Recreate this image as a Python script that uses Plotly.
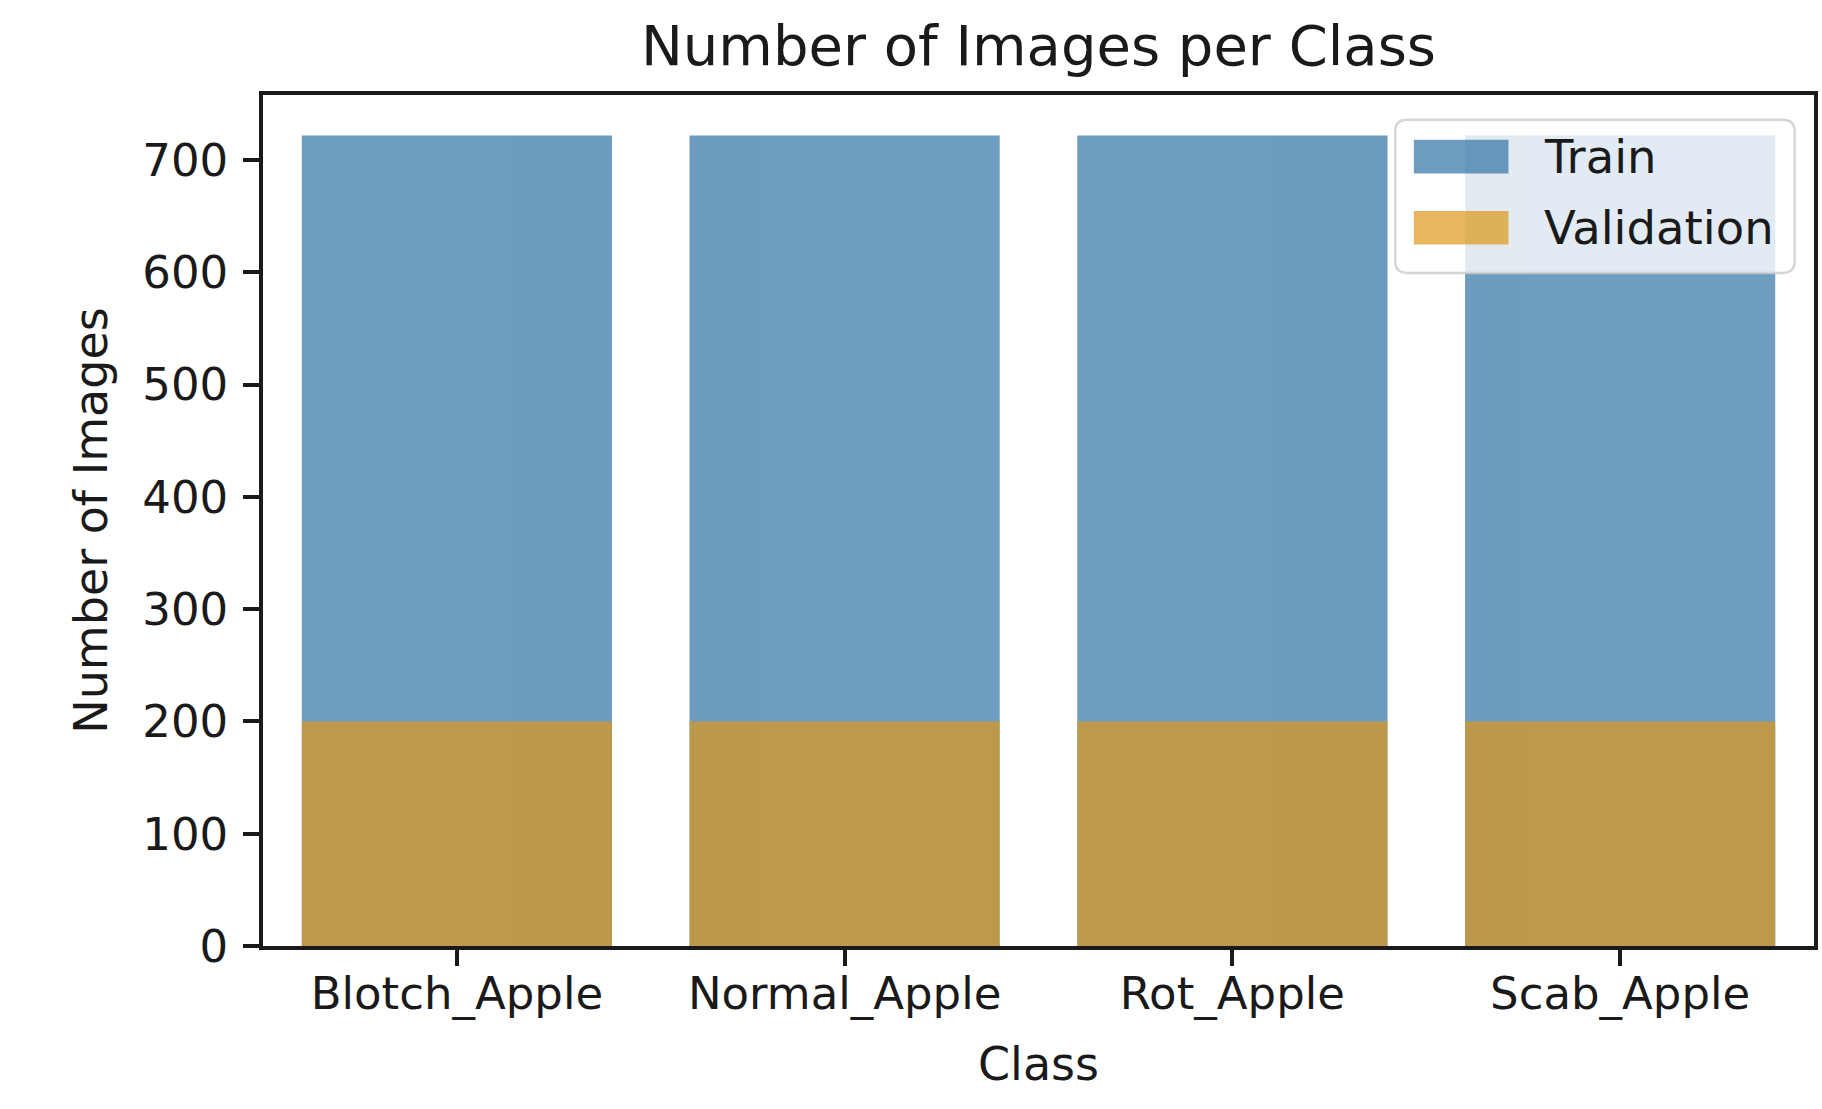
import plotly.graph_objects as go

classes = ["Blotch_Apple", "Normal_Apple", "Rot_Apple", "Scab_Apple"]
train_counts = [722, 722, 722, 722]
val_counts = [200, 200, 200, 200]
y_ticks = [0, 100, 200, 300, 400, 500, 600, 700]

train_color = "rgb(48,115,165)"
val_color = "rgb(222,151,26)"
ink = "#1a1a1a"
font = "DejaVu Sans"

fig = go.Figure()

fig.add_trace(go.Bar(
    x=classes, y=train_counts, name="Train",
    marker=dict(color=train_color, line_width=0),
    opacity=0.7, width=0.8,
))
fig.add_trace(go.Bar(
    x=classes, y=val_counts, name="Validation",
    marker=dict(color=val_color, line_width=0),
    opacity=0.7, width=0.8,
))

# matplotlib-style legend box drawn by hand (big swatches, rounded frame)
x0, x1, y0, y1 = 0.7300, 0.9875, 0.7909, 0.9708
rx, ry = 0.0077, 0.014
box = (f"M {x0+rx},{y0} L {x1-rx},{y0} Q {x1},{y0} {x1},{y0+ry} "
       f"L {x1},{y1-ry} Q {x1},{y1} {x1-rx},{y1} L {x0+rx},{y1} "
       f"Q {x0},{y1} {x0},{y1-ry} L {x0},{y0+ry} Q {x0},{y0} {x0+rx},{y0} Z")
fig.add_shape(type="path", path=box, xref="x domain", yref="y domain",
              fillcolor="rgba(255,255,255,0.8)",
              line=dict(color="rgba(204,204,204,0.8)", width=2.5), layer="above")

legend_rows = [("Train", train_color, 0.9276), ("Validation", val_color, 0.8440)]
for label, color, yc in legend_rows:
    fig.add_shape(type="rect", xref="x domain", yref="y domain",
                  x0=0.7420, x1=0.8030, y0=yc - 0.0198, y1=yc + 0.0198,
                  fillcolor=color, opacity=0.7, line_width=0, layer="above")
    fig.add_annotation(text=label, xref="x domain", yref="y domain",
                       x=0.8244, y=yc, xanchor="left", yanchor="middle",
                       showarrow=False, font=dict(size=46.5, color=ink))

fig.update_layout(
    width=1822, height=1109,
    margin=dict(l=263, r=4, t=95, b=163),
    plot_bgcolor="white", paper_bgcolor="white",
    barmode="overlay",
    showlegend=False,
    font=dict(family=font, size=45, color=ink),
    title=dict(text="Number of Images per Class", x=0.5, xref="paper",
               xanchor="center", y=1 - 45 / 1109, yref="container",
               yanchor="middle", font=dict(size=56, color=ink)),
)

fig.update_xaxes(
    range=[-0.5, 3.5], showgrid=False,
    showline=True, mirror=True, linecolor=ink, linewidth=3.5,
    ticks="outside", ticklen=16, tickwidth=3.5, tickcolor=ink,
    ticklabelstandoff=-11,
    title=dict(text="Class", standoff=30, font=dict(size=46)),
)
fig.update_yaxes(
    range=[0, 758.1], tickvals=y_ticks, showgrid=False, zeroline=False,
    showline=True, mirror=True, linecolor=ink, linewidth=3.5,
    ticks="outside", ticklen=16, tickwidth=3.5, tickcolor=ink,
    ticklabelstandoff=6,
    title=dict(text="Number of Images", standoff=21, font=dict(size=46)),
)

fig.write_html("out.html", config={"displayModeBar": False},
               post_script="document.body.style.margin='0';")
